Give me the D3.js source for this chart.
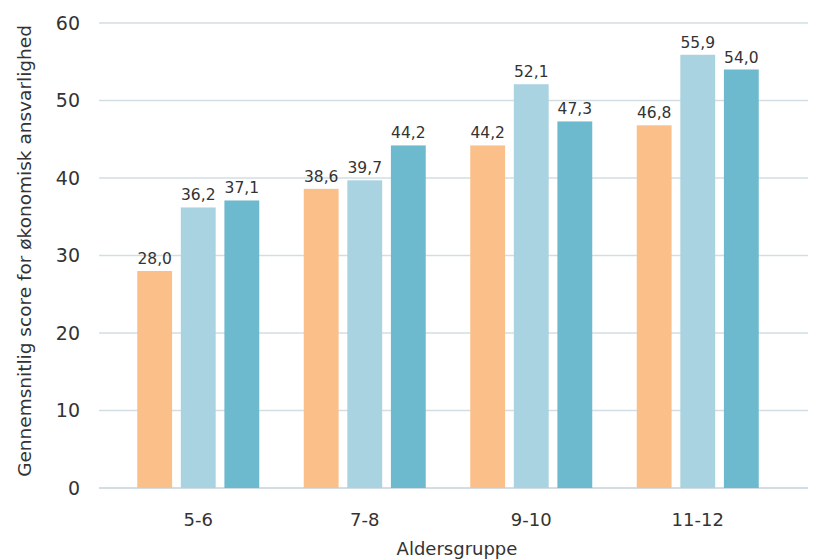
<!DOCTYPE html>
<html>
<head>
<meta charset="utf-8">
<script src="https://cdn.jsdelivr.net/npm/d3@7"></script>
<style>
  html, body { margin: 0; padding: 0; background: #fff; }
  svg { display: block; }
  text { font-family: "DejaVu Sans", sans-serif; fill: #333; }
</style>
</head>
<body>
<svg id="chart" width="815" height="559"></svg>
<script>
// Age groups and the three score series
const categories = ["5-6", "7-8", "9-10", "11-12"];
const seriesA = [28.0, 38.6, 44.2, 46.8];
const seriesB = [36.2, 39.7, 52.1, 55.9];
const seriesC = [37.1, 44.2, 47.3, 54.0];
const seriesColors = ["#FBC08A", "#A9D3E0", "#6DB9CE"];
const yTicks = [0, 10, 20, 30, 40, 50, 60];
const yTitle = "Gennemsnitlig score for økonomisk ansvarlighed";
const xTitle = "Aldersgruppe";

const series = [seriesA, seriesB, seriesC];
const fmt = v => v.toFixed(1).replace(".", ",");

const svg = d3.select("#chart");
const gridLeft = 99, gridRight = 808;

const y = d3.scaleLinear().domain([0, 60]).range([488, 23]);
const x0 = d3.scaleBand().domain(categories).range([115, 781]).paddingInner(0).paddingOuter(0);
const x1 = d3.scaleBand().domain(d3.range(series.length)).range([0, 122]).paddingInner(0.2);

// Horizontal gridlines
svg.append("g").selectAll("line").data(yTicks).join("line")
  .attr("x1", gridLeft).attr("x2", gridRight)
  .attr("y1", d => y(d)).attr("y2", d => y(d))
  .attr("stroke", "#D2DEE4").attr("stroke-width", d => d === 0 ? 2 : 1.5);

// Y axis tick labels
svg.append("g").selectAll("text").data(yTicks).join("text")
  .attr("x", 80).attr("y", d => y(d)).attr("dy", "0.35em")
  .attr("text-anchor", "end").attr("font-size", 19).text(d => d);

// Bars
const groups = svg.append("g").selectAll("g").data(categories).join("g")
  .attr("transform", (d, i) => `translate(${x0(d) + (x0.bandwidth() - 122) / 2},0)`);

groups.selectAll("rect")
  .data((d, i) => series.map((s, k) => ({ k, v: s[i] })))
  .join("rect")
  .attr("x", d => x1(d.k)).attr("width", x1.bandwidth())
  .attr("y", d => y(d.v)).attr("height", d => y(0) - y(d.v))
  .attr("fill", d => seriesColors[d.k]);

groups.selectAll("text")
  .data((d, i) => series.map((s, k) => ({ k, v: s[i] })))
  .join("text")
  .attr("x", d => x1(d.k) + x1.bandwidth() / 2)
  .attr("y", d => y(d.v) - 7)
  .attr("text-anchor", "middle").attr("font-size", 15.5)
  .text(d => fmt(d.v));

// X axis category labels
svg.append("g").selectAll("text").data(categories).join("text")
  .attr("x", d => x0(d) + x0.bandwidth() / 2).attr("y", 520).attr("dy", "0.35em")
  .attr("text-anchor", "middle").attr("font-size", 18).text(d => d);

// Axis titles
svg.append("text").attr("x", 457).attr("y", 549).attr("dy", "0.35em")
  .attr("text-anchor", "middle").attr("font-size", 18).text(xTitle);

svg.append("text").attr("transform", "translate(25,251) rotate(-90)")
  .attr("dy", "0.35em").attr("text-anchor", "middle").attr("font-size", 18.5).text(yTitle);
</script>
</body>
</html>
